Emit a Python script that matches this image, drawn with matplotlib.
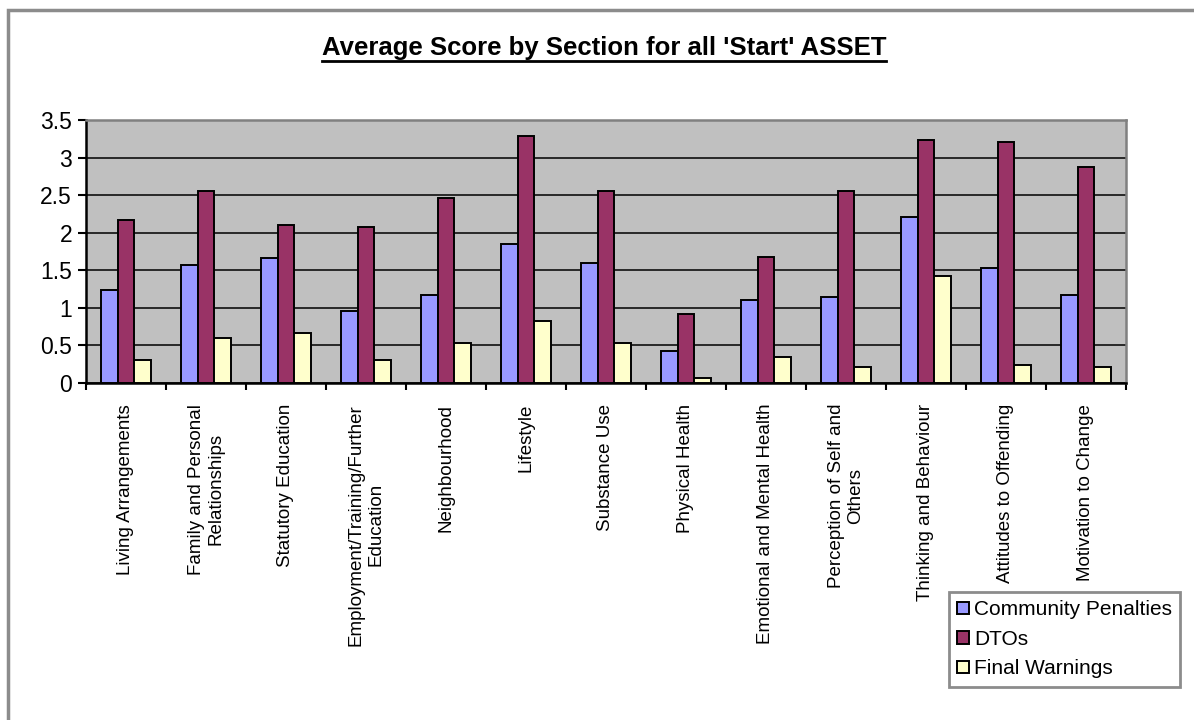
import numpy as np
import matplotlib
matplotlib.use("Agg")
import matplotlib.pyplot as plt
from matplotlib.patches import Rectangle
from matplotlib.ticker import FuncFormatter

plt.rcParams['font.family'] = ['Liberation Sans', 'DejaVu Sans']

# data
sections = [
    "Living Arrangements",
    "Family and Personal\nRelationships",
    "Statutory Education",
    "Employment/Training/Further\nEducation",
    "Neighbourhood",
    "Lifestyle",
    "Substance Use",
    "Physical Health",
    "Emotional and Mental Health",
    "Perception of Self and\nOthers",
    "Thinking and Behaviour",
    "Attitudes to Offending",
    "Motivation to Change",
]
community_penalties = [1.24, 1.57, 1.67, 0.96, 1.17, 1.85, 1.60, 0.42, 1.10, 1.14, 2.21, 1.53, 1.17]
dtos = [2.17, 2.56, 2.10, 2.07, 2.46, 3.29, 2.56, 0.92, 1.68, 2.56, 3.24, 3.21, 2.88]
final_warnings = [0.31, 0.60, 0.67, 0.31, 0.53, 0.82, 0.53, 0.07, 0.35, 0.21, 1.42, 0.24, 0.21]

series_names = ["Community Penalties", "DTOs", "Final Warnings"]
series_colors = ["#9999FF", "#993366", "#FFFFCC"]

W, H = 1194, 720
fig = plt.figure(figsize=(W / 100, H / 100), dpi=100)

# outer chart frame (cut off at right and bottom like the reference)
fig.patches.append(Rectangle((8 / W, -0.1), 1.2, 1.1 - 10 / H, transform=fig.transFigure,
                             fill=False, edgecolor="#8c8c8c", linewidth=2.5, zorder=0))

ax = fig.add_axes([86 / W, 1 - 383 / H, (1126 - 86) / W, (383 - 120) / H])
ax.set_facecolor("#C0C0C0")

x = np.arange(len(sections))
bw = 0.212
for i, (vals, name, col) in enumerate(zip([community_penalties, dtos, final_warnings],
                                          series_names, series_colors)):
    ax.bar(x + (i - 1) * bw, vals, width=bw, color=col, edgecolor="black",
           linewidth=1.4, label=name, zorder=3)

ax.set_xlim(-0.5, len(sections) - 0.5)
ax.set_ylim(0, 3.5)
ax.set_yticks(np.arange(0, 3.51, 0.5))
ax.yaxis.set_major_formatter(FuncFormatter(lambda v, p: f"{v:g}"))
ax.yaxis.grid(True, color="black", linewidth=1.1, zorder=1)
ax.set_axisbelow(True)
ax.tick_params(axis="y", labelsize=16.5, length=6, width=1.5, direction="out", pad=4)

# category boundary ticks + centered labels
ax.set_xticks(np.arange(-0.5, len(sections), 1.0))
ax.set_xticklabels([])
ax.tick_params(axis="x", which="major", length=5, width=1.5, direction="out")
ax.set_xticks(x, minor=True)
ax.set_xticklabels(sections, minor=True, rotation=90, ha="center", va="top",
                   multialignment="center", fontsize=13.5)
ax.tick_params(axis="x", which="minor", length=0, pad=15)

for side in ["left", "bottom"]:
    ax.spines[side].set_linewidth(1.8)
    ax.spines[side].set_color("black")
for side in ["top", "right"]:
    ax.spines[side].set_linewidth(1.8)
    ax.spines[side].set_color("#808080")

title = fig.text(604 / W, 1 - 48 / H, "Average Score by Section for all 'Start' ASSET",
                 ha="center", va="center", fontsize=18.5, fontweight="bold")
# underline the title
fig.canvas.draw()
bb = title.get_window_extent()
fig.add_artist(plt.Line2D([bb.x0 / W, bb.x1 / W], [(bb.y0 - 1) / H, (bb.y0 - 1) / H],
                          transform=fig.transFigure, color="black", linewidth=2))

handles, labels = ax.get_legend_handles_labels()
leg = fig.legend(handles, labels, loc="upper left",
                 bbox_to_anchor=(949 / W, 1 - 592 / H), bbox_transform=fig.transFigure,
                 fontsize=15, frameon=True, fancybox=False, framealpha=1,
                 edgecolor="#8c8c8c", handlelength=0.55, handleheight=0.55,
                 handletextpad=0.25, labelspacing=0.5, borderpad=0.4, borderaxespad=0)
leg.get_frame().set_linewidth(2)

fig.savefig("out.png", dpi=100)
